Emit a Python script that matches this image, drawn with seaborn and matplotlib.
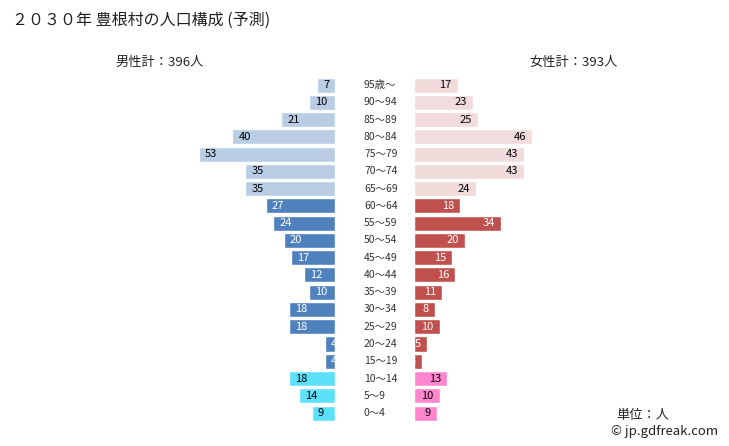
import matplotlib
matplotlib.use("Agg")
import matplotlib.pyplot as plt
import seaborn as sns
import pandas as pd
import matplotlib.transforms as mtrans

sns.set_theme(style="white")
plt.rcParams['font.family'] = ['Noto Sans CJK JP', 'DejaVu Sans']

ages = ["95歳～", "90～94", "85～89", "80～84", "75～79", "70～74", "65～69",
        "60～64", "55～59", "50～54", "45～49", "40～44", "35～39", "30～34",
        "25～29", "20～24", "15～19", "10～14", "5～9", "0～4"]
male = [7, 10, 21, 40, 53, 35, 35, 27, 24, 20, 17, 12, 10, 18, 18, 4, 4, 18, 14, 9]
female = [17, 23, 25, 46, 43, 43, 24, 18, 34, 20, 15, 16, 11, 8, 10, 5, 3, 13, 10, 9]
groups = ["old"] * 7 + ["mid"] * 10 + ["young"] * 3

male_col = {"old": "#b9cde5", "mid": "#4f81bd", "young": "#5de1fa"}
female_col = {"old": "#f2dcdb", "mid": "#c0504d", "young": "#ff86cf"}
txt_col = {"old": "black", "mid": "white", "young": "black"}

df = pd.DataFrame({"age": ages, "male": male, "female": female, "group": groups})

W, H = 729, 446
fig = plt.figure(figsize=(W / 100, H / 100), dpi=100)

ppu = 2.566
top_px, bot_px = 76.4, 421.7


def add_ax(x0, x1):
    return fig.add_axes([x0 / W, 1 - bot_px / H, (x1 - x0) / W, (bot_px - top_px) / H])


axm = add_ax(190, 335)
axf = add_ax(414, 560)

sns.barplot(data=df, x="male", y="age", hue="age", order=ages, hue_order=ages,
            palette=[male_col[g] for g in groups], legend=False, ax=axm,
            width=0.87, orient="h", saturation=1)
sns.barplot(data=df, x="female", y="age", hue="age", order=ages, hue_order=ages,
            palette=[female_col[g] for g in groups], legend=False, ax=axf,
            width=0.87, orient="h", saturation=1)

axm.set_xlim(145 / ppu, 0)
axf.set_xlim(0, 146 / ppu)
for ax in (axm, axf):
    ax.set_ylim(len(ages) - 0.5, -0.5)
    ax.axis("off")

off_m = mtrans.offset_copy(axm.transData, fig=fig, x=6, y=0, units="dots")
off_f = mtrans.offset_copy(axf.transData, fig=fig, x=-6, y=0, units="dots")

for i, (c, g) in enumerate(zip(axm.containers, groups)):
    bar = c[0]
    t = axm.text(male[i], i, str(male[i]), transform=off_m, ha="left", va="center",
                 fontsize=8, color=txt_col[g])
    t.set_clip_path(bar)
for i, (c, g) in enumerate(zip(axf.containers, groups)):
    bar = c[0]
    t = axf.text(female[i], i, str(female[i]), transform=off_f, ha="right", va="center",
                 fontsize=8, color=txt_col[g])
    t.set_clip_path(bar)

for i, a in enumerate(ages):
    yy = top_px + (i + 0.5) * (bot_px - top_px) / len(ages)
    fig.text(364 / W, 1 - yy / H, a, ha="left", va="center", fontsize=7.5, color="#333333")

fig.text(12 / W, 1 - 20 / H, "２０３０年 豊根村の人口構成 (予測)", ha="left", va="center",
         fontsize=11.5, color="#222222")
fig.text(160 / W, 1 - 62 / H, "男性計：396人", ha="center", va="center", fontsize=9.5, color="#222222")
fig.text(574 / W, 1 - 62 / H, "女性計：393人", ha="center", va="center", fontsize=9.5, color="#222222")
fig.text(616 / W, 1 - 416 / H, "単位：人", ha="left", va="center", fontsize=9.5, color="#222222")
fig.text(611 / W, 1 - 432 / H, "© jp.gdfreak.com", ha="left", va="center", fontsize=9.5,
         color="#222222")

fig.savefig("out.png", dpi=100)
